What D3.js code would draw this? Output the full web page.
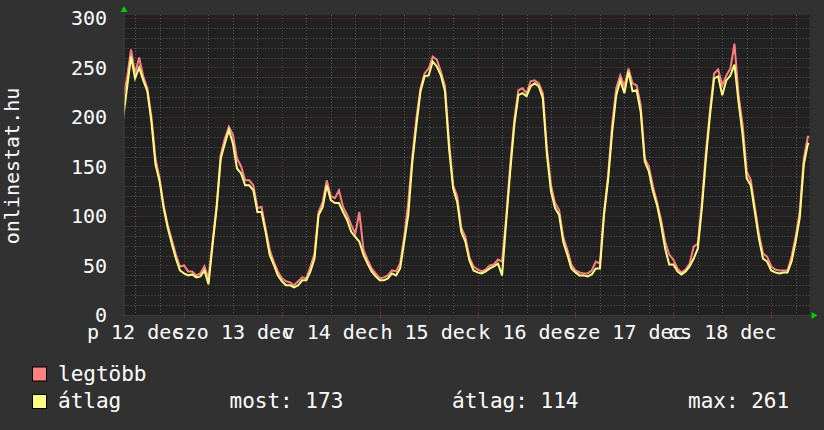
<!DOCTYPE html>
<html><head><meta charset="utf-8">
<script src="https://cdn.jsdelivr.net/npm/d3@7"></script>
<style>
html,body{margin:0;padding:0;background:#313131;}
svg{display:block;}
text{font-family:"DejaVu Sans Mono",monospace;fill:#ffffff;}
</style></head>
<body>
<script>
// ---- data (hourly samples, starting 2008-12-12 09:00 UTC) ----
const startHour = Date.UTC(2008, 11, 12, 9);
const atlag = [197,229,261,239,250,237,226,195,152,135,108,88,72,57,45,
42,40,41,38,39,45,31,71,108,158,173,187,173,148,143,131,131,126,104,104,84,61,51,40,
34,30,30,28,30,35,35,44,57,101,109,131,116,113,113,104,96,84,79,74,61,52,44,39,
35,35,37,42,40,47,74,101,155,192,226,241,242,256,251,242,226,168,128,114,84,74,55,45,
43,42,44,47,49,52,40,94,145,192,222,224,221,231,234,231,219,162,125,108,101,74,61,47,
43,40,40,39,41,47,47,101,136,185,222,237,224,246,226,227,205,155,145,125,111,91,67,51,
51,44,41,44,49,57,67,108,158,202,239,241,222,237,242,253,215,182,138,131,104,77,57,54,
45,43,42,43,43,54,74,98,152,173];
const legtobb = [218,239,268,244,260,241,229,200,158,138,111,91,76,61,49,
50,44,44,40,42,49,37,74,111,162,178,190,182,158,150,136,136,131,108,109,88,66,54,44,
37,34,33,30,34,38,37,49,62,104,114,136,120,118,126,109,101,91,82,104,66,56,47,42,
37,38,40,45,44,52,79,114,160,199,229,244,249,261,258,246,231,175,131,120,88,79,58,49,
46,44,46,50,51,56,54,98,152,197,227,229,224,236,237,234,224,168,131,113,106,79,66,51,
45,43,42,42,45,54,52,104,141,192,229,242,231,249,234,232,212,158,150,130,114,96,74,61,
56,47,43,46,52,69,72,113,165,207,244,248,232,242,249,274,222,192,145,136,109,82,62,59,
49,46,45,45,45,59,79,104,158,180];
const dayLabels = ["p 12 dec","szo 13 dec","v 14 dec","h 15 dec","k 16 dec","sze 17 dec","cs 18 dec"];
const yTicks = [0,50,100,150,200,250,300];
const seriesNames = ["legtöbb","átlag"];
const seriesColors = ["#FF8080","#FFFF80"];
const stats = {most:173, atlag:114, max:261};
const yTitle = "onlinestat.hu";

// ---- layout ----
const W = 824, H = 430;
const L = 124.5, R = 809.5, T = 15, B = 315;
const t0 = new Date(Date.UTC(2008, 11, 12, 9, 24));
const t1 = new Date(Date.UTC(2008, 11, 19, 9, 24));
const x = d3.scaleUtc().domain([t0, t1]).range([L, R]);
const y = d3.scaleLinear().domain([0, 303]).range([B, T]);

const svg = d3.select("body").append("svg").attr("width", W).attr("height", H);
svg.append("rect").attr("width", W).attr("height", H).attr("fill", "#313131");
svg.append("rect").attr("x", L).attr("y", T).attr("width", R - L).attr("height", B - T).attr("fill", "#212121");

const defs = svg.append("defs");
defs.append("clipPath").attr("id", "clip").append("rect")
  .attr("x", L).attr("y", T).attr("width", R - L).attr("height", B - T);

// grid
const g = svg.append("g");
const minorX = d3.utcHour.every(6).range(t0, t1).filter(d => d.getUTCHours() !== 0);
const majorX = d3.utcDay.range(t0, t1);
g.selectAll(".vmin").data(minorX).join("line")
  .attr("x1", d => Math.round(x(d)) + 0.5).attr("x2", d => Math.round(x(d)) + 0.5)
  .attr("y1", T).attr("y2", B)
  .attr("stroke", "#5a5a5a").attr("stroke-dasharray", "1,2");
const minorY = d3.range(10, 310, 10).filter(v => v % 50 !== 0);
g.selectAll(".hmin").data(minorY).join("line")
  .attr("x1", L).attr("x2", R)
  .attr("y1", d => Math.round(y(d)) + 0.5).attr("y2", d => Math.round(y(d)) + 0.5)
  .attr("stroke", "#5a5a5a").attr("stroke-dasharray", "1,2");
g.selectAll(".vmaj").data(majorX).join("line")
  .attr("x1", d => Math.round(x(d)) + 0.5).attr("x2", d => Math.round(x(d)) + 0.5)
  .attr("y1", T).attr("y2", B)
  .attr("stroke", "#7a3434").attr("stroke-dasharray", "1,2");
g.selectAll(".vtick").data(majorX).join("line")
  .attr("x1", d => Math.round(x(d)) + 0.5).attr("x2", d => Math.round(x(d)) + 0.5)
  .attr("y1", B - 2).attr("y2", B + 3)
  .attr("stroke", "#7a3434");
g.selectAll(".hmaj").data(yTicks.filter(v => v > 0)).join("line")
  .attr("x1", L).attr("x2", R)
  .attr("y1", d => Math.round(y(d)) + 0.5).attr("y2", d => Math.round(y(d)) + 0.5)
  .attr("stroke", "#7a3434").attr("stroke-dasharray", "1,2");

// axes lines
svg.append("line").attr("x1", L - 3).attr("x2", R + 2).attr("y1", B + 0.5).attr("y2", B + 0.5).attr("stroke", "#3c3c3c");
svg.append("line").attr("x1", L - 0.5).attr("x2", L - 0.5).attr("y1", T - 2).attr("y2", B + 2).attr("stroke", "#3c3c3c");
// arrows
svg.append("path").attr("d", `M${L-4},${T-3} L${L+3},${T-3} L${L-0.5},${T-9} Z`).attr("fill", "#00cc00");
svg.append("path").attr("d", `M${R+2},${B-3} L${R+2},${B+4} L${R+8},${B+0.5} Z`).attr("fill", "#00cc00");

// series
const times = atlag.map((_, i) => new Date(startHour + i * 3600000));
const line = d3.line().x(d => x(d[0])).y(d => y(d[1])).curve(d3.curveLinear);
const plot = svg.append("g").attr("clip-path", "url(#clip)");
[legtobb, atlag].forEach((s, k) => {
  const pts = s.map((v, i) => [times[i], v]);
  pts.push([t1, s[s.length - 1]]);
  plot.append("path").datum(pts).attr("d", line)
    .attr("fill", "none").attr("stroke", seriesColors[k]).attr("stroke-width", 2)
    .attr("stroke-linejoin", "miter").attr("stroke-linecap", "butt");
});

// y labels
svg.selectAll(".ylab").data(yTicks).join("text")
  .attr("x", 107).attr("y", d => y(d)).attr("dy", "0.36em")
  .attr("text-anchor", "end").attr("font-size", 20).text(d => d);
// x labels (centered at noon)
svg.selectAll(".xlab").data(dayLabels).join("text")
  .attr("x", (d, i) => x(new Date(Date.UTC(2008, 11, 12 + i, 12))))
  .attr("y", 339).attr("text-anchor", "middle").attr("font-size", 20).text(d => d);
// y title
svg.append("text").attr("transform", "translate(18.5,166) rotate(-90)")
  .attr("text-anchor", "middle").attr("font-size", 20).text(yTitle);

// legend
const legY = [367, 394.5];
seriesNames.forEach((n, k) => {
  svg.append("rect").attr("x", 32.5).attr("y", legY[k]).attr("width", 14).attr("height", 14)
    .attr("fill", seriesColors[k]).attr("stroke", "#000").attr("stroke-width", 1);
  svg.append("text").attr("x", 58).attr("y", legY[k] + 13.5).attr("font-size", 21).text(n);
});
svg.append("text").attr("x", 229.5).attr("y", 408).attr("font-size", 21).text("most: " + stats.most);
svg.append("text").attr("x", 452).attr("y", 408).attr("font-size", 21).text("átlag: " + stats.atlag);
svg.append("text").attr("x", 688).attr("y", 408).attr("font-size", 21).text("max: " + stats.max);
</script>
</body></html>
